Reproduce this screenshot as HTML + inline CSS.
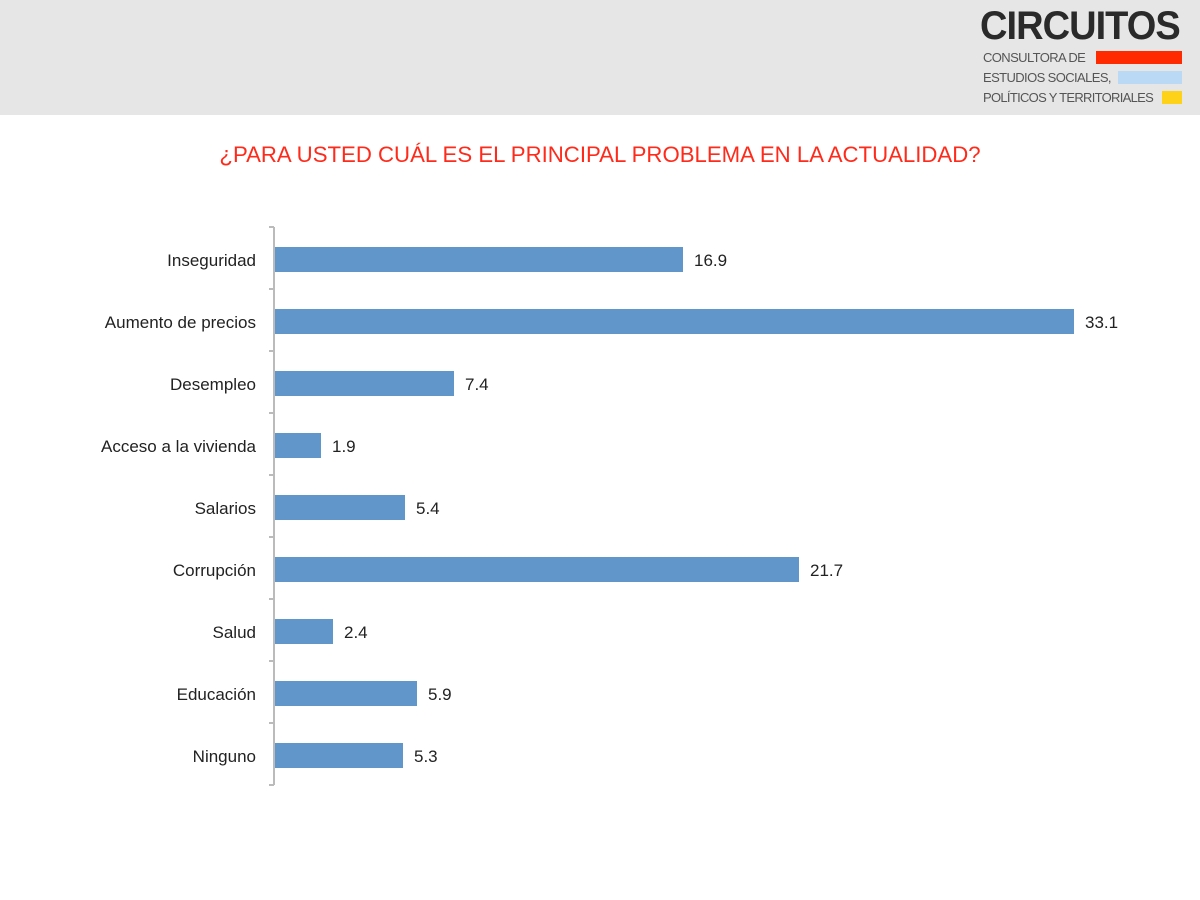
<!DOCTYPE html>
<html><head><meta charset="utf-8"><style>
body{margin:0;width:1200px;height:900px;background:#fff;font-family:"Liberation Sans",sans-serif;position:relative;overflow:hidden}
.hdr{position:absolute;left:0;top:0;width:1200px;height:115px;background:#e6e6e6}
.t{position:absolute;white-space:nowrap}
</style></head><body>
<div class="hdr"></div>
<div class="t" style="left:980px;top:4px;font-size:40px;font-weight:bold;color:#2a2a2a;letter-spacing:-1px;transform:scaleX(0.95);transform-origin:left">CIRCUITOS</div>
<div class="t" style="left:983px;top:50px;font-size:13px;color:#555;letter-spacing:-0.6px">CONSULTORA DE</div>
<div style="position:absolute;left:1096px;top:51px;width:86px;height:13px;background:#ff2a00"></div>
<div class="t" style="left:983px;top:70px;font-size:13px;color:#555;letter-spacing:-0.6px">ESTUDIOS SOCIALES,</div>
<div style="position:absolute;left:1118px;top:71px;width:64px;height:13px;background:#b9d9f5"></div>
<div class="t" style="left:983px;top:90px;font-size:13px;color:#555;letter-spacing:-0.7px">POLÍTICOS Y TERRITORIALES</div>
<div style="position:absolute;left:1162px;top:91px;width:20px;height:13px;background:#ffd21a"></div>
<div class="t" style="left:0;width:1200px;text-align:center;top:142px;font-size:22.2px;color:#ff2a1a">¿PARA USTED CUÁL ES EL PRINCIPAL PROBLEMA EN LA ACTUALIDAD?</div>
<svg style="position:absolute;left:0;top:0" width="1200" height="900">
<g stroke="#bbb" stroke-width="2">
<line x1="274" y1="227" x2="274" y2="785"/>
<line x1="269" y1="227" x2="274" y2="227"/><line x1="269" y1="289" x2="274" y2="289"/><line x1="269" y1="351" x2="274" y2="351"/><line x1="269" y1="413" x2="274" y2="413"/><line x1="269" y1="475" x2="274" y2="475"/><line x1="269" y1="537" x2="274" y2="537"/><line x1="269" y1="599" x2="274" y2="599"/><line x1="269" y1="661" x2="274" y2="661"/><line x1="269" y1="723" x2="274" y2="723"/><line x1="269" y1="785" x2="274" y2="785"/>
</g>
<g fill="#6196cb">
<rect x="275" y="247" width="408" height="25"/>
<rect x="275" y="309" width="799" height="25"/>
<rect x="275" y="371" width="179" height="25"/>
<rect x="275" y="433" width="46" height="25"/>
<rect x="275" y="495" width="130" height="25"/>
<rect x="275" y="557" width="524" height="25"/>
<rect x="275" y="619" width="58" height="25"/>
<rect x="275" y="681" width="142" height="25"/>
<rect x="275" y="743" width="128" height="25"/>
</g>
<g font-family="Liberation Sans,sans-serif" font-size="17" fill="#222" text-anchor="end">
<text x="256" y="266">Inseguridad</text>
<text x="256" y="328">Aumento de precios</text>
<text x="256" y="390">Desempleo</text>
<text x="256" y="452">Acceso a la vivienda</text>
<text x="256" y="514">Salarios</text>
<text x="256" y="576">Corrupción</text>
<text x="256" y="638">Salud</text>
<text x="256" y="700">Educación</text>
<text x="256" y="762">Ninguno</text>
</g>
<g font-family="Liberation Sans,sans-serif" font-size="17" fill="#222">
<text x="694" y="266">16.9</text>
<text x="1085" y="328">33.1</text>
<text x="465" y="390">7.4</text>
<text x="332" y="452">1.9</text>
<text x="416" y="514">5.4</text>
<text x="810" y="576">21.7</text>
<text x="344" y="638">2.4</text>
<text x="428" y="700">5.9</text>
<text x="414" y="762">5.3</text>
</g>
</svg>
</body></html>
